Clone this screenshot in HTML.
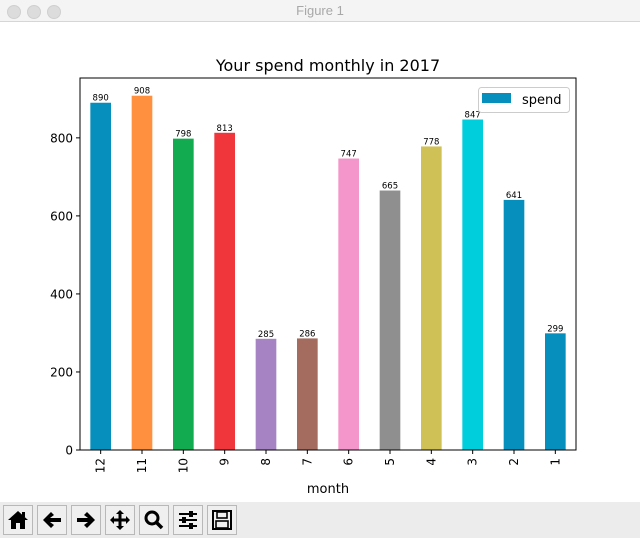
<!DOCTYPE html>
<html><head><meta charset="utf-8"><style>
body{margin:0;width:640px;height:538px;overflow:hidden;background:#fff;font-family:"DejaVu Sans","Liberation Sans",sans-serif;position:relative}
#titlebar{position:absolute;left:0;top:0;width:640px;height:21px;background:#f4f4f4;border-bottom:1px solid #d6d6d6}
.dot{position:absolute;top:5px;width:12px;height:12px;border-radius:50%;background:#dcdcdc;border:0.5px solid #cfcfcf}
#wtitle{position:absolute;top:3px;width:640px;text-align:center;font-size:13px;color:#a8a8a8;font-family:"Liberation Sans",sans-serif}
#toolbar{position:absolute;left:0;top:502px;width:640px;height:36px;background:#ececec}
.btn{position:absolute;top:3px;width:30px;height:30px;border:1px solid #b8b8b8;background:#efefef;box-sizing:border-box;display:flex;align-items:center;justify-content:center}
#chart{position:absolute;left:0;top:0}
.btn svg{position:static}
</style></head><body>
<div id="titlebar">
<div class="dot" style="left:7px"></div>
<div class="dot" style="left:27px"></div>
<div class="dot" style="left:47px"></div>
<div id="wtitle">Figure 1</div>
</div>
<svg id="chart" width="640" height="502"></svg>
<div id="toolbar">
<div class="btn" style="left:3px"><svg width="22" height="22"><path d="M1 11 L11 2 L21 11 L18 11 L18 20 L13 20 L13 14 L9 14 L9 20 L4 20 L4 11 Z" fill="#000"/><rect x="15" y="3" width="3" height="5" fill="#000"/></svg></div>
<div class="btn" style="left:37px"><svg width="22" height="22"><path d="M2 11 L10 3 L13 6 L9 9 L20 9 L20 13 L9 13 L13 16 L10 19 Z" fill="#000"/></svg></div>
<div class="btn" style="left:71px"><svg width="22" height="22"><path d="M20 11 L12 3 L9 6 L13 9 L2 9 L2 13 L13 13 L9 16 L12 19 Z" fill="#000"/></svg></div>
<div class="btn" style="left:105px"><svg width="22" height="22"><path d="M11 1 L15 5 L12.5 5 L12.5 9.5 L17 9.5 L17 7 L21 11 L17 15 L17 12.5 L12.5 12.5 L12.5 17 L15 17 L11 21 L7 17 L9.5 17 L9.5 12.5 L5 12.5 L5 15 L1 11 L5 7 L5 9.5 L9.5 9.5 L9.5 5 L7 5 Z" fill="#000"/></svg></div>
<div class="btn" style="left:139px"><svg width="22" height="22"><circle cx="9" cy="9" r="6" fill="none" stroke="#000" stroke-width="3"/><line x1="13" y1="13" x2="19" y2="19" stroke="#000" stroke-width="3.5"/></svg></div>
<div class="btn" style="left:173px"><svg width="22" height="22"><g stroke="#000" stroke-width="2"><line x1="2" y1="5" x2="20" y2="5"/><line x1="2" y1="11" x2="20" y2="11"/><line x1="2" y1="17" x2="20" y2="17"/></g><rect x="12" y="2" width="4" height="6" fill="#000"/><rect x="5" y="8" width="4" height="6" fill="#000"/><rect x="12" y="14" width="4" height="6" fill="#000"/></svg></div>
<div class="btn" style="left:207px"><svg width="22" height="22"><rect x="2" y="2" width="18" height="18" fill="none" stroke="#000" stroke-width="2"/><rect x="6" y="3" width="10" height="6" fill="none" stroke="#000" stroke-width="1.6"/><rect x="5" y="12" width="12" height="7" fill="none" stroke="#000" stroke-width="1.6"/></svg></div>
</div>
<script>
const categories=["12","11","10","9","8","7","6","5","4","3","2","1"];
const values=[890,908,798,813,285,286,747,665,778,847,641,299];
const colors=["#068fbd","#fe903f","#12ab4f","#f0353b","#a683c3","#a46b5f","#f495cb","#8f8f8f","#d0c156","#00cedc","#068fbd","#068fbd"];
const yTicks=[0,200,400,600,800];
const NS="http://www.w3.org/2000/svg";
const svg=document.getElementById('chart');
const L=80,R=576,T=78,B=450;
const yMax=Math.max(...values)*1.05;
const y=v=>B-(v/yMax)*(B-T);
const band=(R-L)/categories.length;
const x=i=>L+band*(i+0.5);
function mk(tag,attrs){const e=document.createElementNS(NS,tag);for(const k in attrs)e.setAttribute(k,attrs[k]);svg.appendChild(e);return e;}
let t=mk('text',{x:328,y:71,'text-anchor':'middle','font-size':16,fill:'#000'});t.textContent='Your spend monthly in 2017';


values.forEach((v,i)=>{
 const r=mk('rect',{x:x(i)-band/4,y:y(v),width:band/2,height:B-y(v),fill:colors[i]});
 
 
 const lb=mk('text',{x:x(i),y:y(v)-2,'text-anchor':'middle','font-size':8.5,fill:'#000'});lb.textContent=v;
 
 
 mk('line',{x1:x(i),x2:x(i),y1:B,y2:B+4,stroke:'#000'});
 const tl=mk('text',{transform:`translate(${x(i)+4},${B+8}) rotate(-90)`,'text-anchor':'end','font-size':12,fill:'#000'});tl.textContent=categories[i];
 
 
});
yTicks.forEach(v=>{
 mk('line',{x1:L-4,x2:L,y1:y(v),y2:y(v),stroke:'#000'});
 const tl=mk('text',{x:L-7,y:y(v)+4.5,'text-anchor':'end','font-size':12,fill:'#000'});tl.textContent=v;
 
 
});
const fr=mk('rect',{x:L,y:T,width:R-L,height:B-T,fill:'none',stroke:'#000','stroke-width':1});


const xt=mk('text',{x:328,y:493,'text-anchor':'middle','font-size':13,fill:'#000'});xt.textContent='month';


const lg=mk('rect',{x:478.5,y:87.5,width:91,height:25,rx:3,fill:'#fff',stroke:'#ccc'});


mk('rect',{x:482,y:93,width:29,height:10,fill:colors[0]});
const lt=mk('text',{x:522,y:104,'font-size':13,fill:'#000'});lt.textContent='spend';


</script>
</body></html>
